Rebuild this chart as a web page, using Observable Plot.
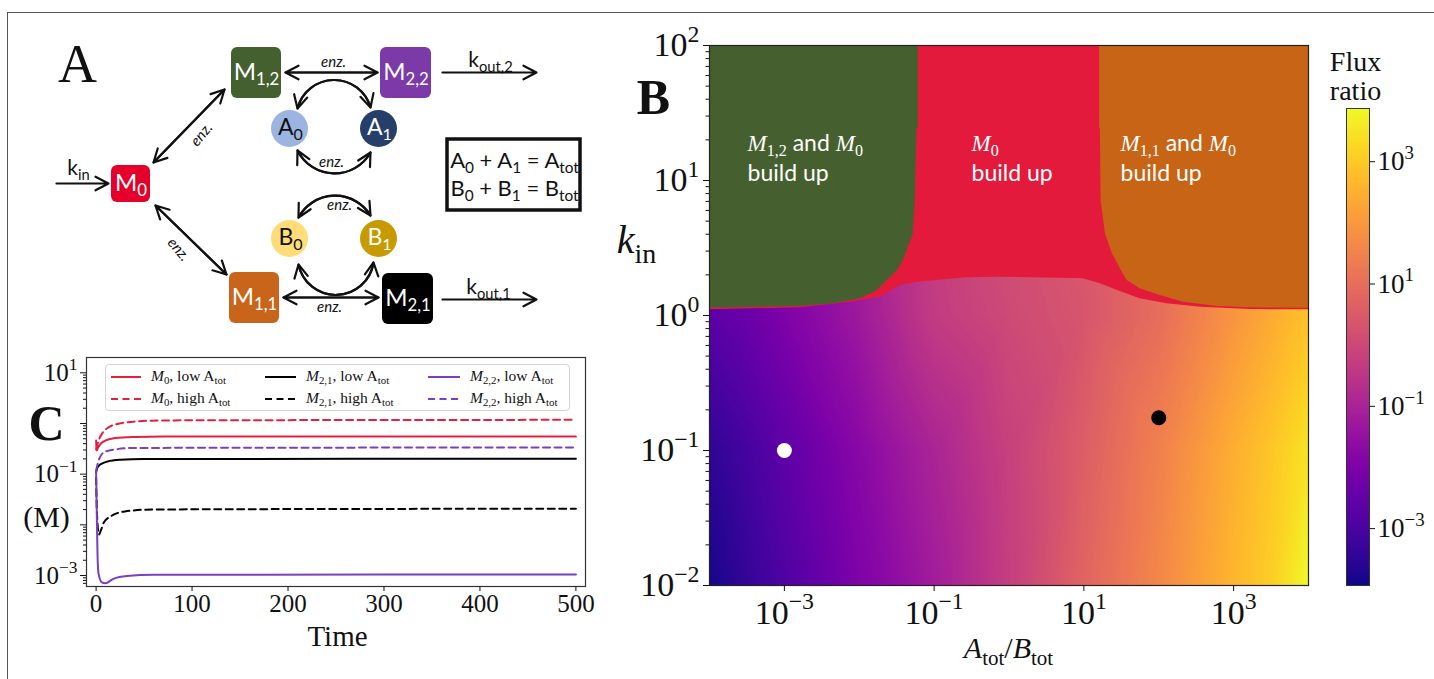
<!DOCTYPE html>
<html><head><meta charset="utf-8">
<script src="https://cdn.jsdelivr.net/npm/d3@7"></script>
<script src="https://cdn.jsdelivr.net/npm/@observablehq/plot@0.6"></script>
<style>
body{margin:0;background:#fff;}
#fig{position:relative;width:1434px;height:679px;overflow:hidden;background:#fff;}
.panel{position:absolute;}
.panel svg{overflow:visible;}
#frame{position:absolute;left:7px;top:12px;width:1500px;height:800px;border-left:1.5px solid #555;border-top:1.5px solid #555;}
#legendC{position:absolute;left:105px;top:364px;width:463px;height:45px;border:1px solid #d4d4d4;border-radius:4px;background:rgba(255,255,255,0.85);font-family:'Liberation Serif','DejaVu Serif',serif;font-size:15.5px;color:#111;}
#legendC .lt{position:absolute;white-space:nowrap;line-height:1;transform:translateY(-55%);}
#legendC sub{font-size:70%;vertical-align:-0.25em;line-height:0;}
#legendC svg{position:absolute;overflow:visible;}
</style></head>
<body>
<div id="fig">
  <div id="frame"></div>
  <div id="pA" class="panel" style="left:0;top:0"></div>
  <div id="pC" class="panel" style="left:0;top:340px"></div>
  <div id="legendC"></div>
  <div id="pB" class="panel" style="left:600px;top:0"></div>
  <div id="pBar" class="panel" style="left:1330px;top:0"></div>
</div>
<script>
const SERIF = "'Liberation Serif','DejaVu Serif',serif";
const SANS = "Lato,'Open Sans','DejaVu Sans',sans-serif";

// ================= DATA =================
// ---- Panel A: reaction scheme ----
const speciesNames  = ["M_{0}", "M_{1,2}", "M_{2,2}", "M_{1,1}", "M_{2,1}"];
const speciesColors = ["#e4002b", "#44602e", "#7b3aa8", "#c9651a", "#000000"];
const enzymeNames   = ["A_{0}", "A_{1}", "B_{0}", "B_{1}"];
const enzymeColors  = ["#9bb5e0", "#263f6a", "#ffdc78", "#c79a00"];
const enzymeText    = ["#111111", "#ffffff", "#111111", "#ffffff"];
const conservation  = ["A_{0} + A_{1} = A_{tot}", "B_{0} + B_{1} = B_{tot}"];
const rateNames     = ["k_{in}", "k_{out,2}", "k_{out,1}"];
const enzLabel      = "enz.";

// ---- Panel B: flux-ratio map (log10 values) ----
const fluxLogX = [-4, -3.5, -3, -2, -1, 0, 1, 2, 3, 3.5, 4];
const fluxLogK = [-2, -1, 0, 0.3, 2];
const fluxLogRatio = [
  [-3.85, -3.38, -2.92, -1.98, -1.20, -0.26, 0.75, 1.61, 2.62, 3.09, 3.87],
  [-3.46, -3.07, -2.60, -1.75, -0.97, -0.19, 0.59, 1.45, 2.47, 2.93, 3.48],
  [-2.68, -2.37, -1.98, -1.28, -0.34,  0.05, 0.36, 0.98, 1.92, 2.39, 2.86],
  [-2.60, -2.30, -1.90, -1.20, -0.30,  0.10, 0.40, 1.00, 1.95, 2.40, 2.86],
  [-2.60, -2.30, -1.90, -1.20, -0.30,  0.10, 0.40, 1.00, 1.95, 2.40, 2.86]
];
const fluxDomain = [-3.93, 3.87];
// upper edge of the steady region (log10 A/B, log10 k_in)
const steadyTopLogX = [-4, -2.785, -2.12, -1.72, -1.45, -1.22, -0.56, -0.115, 0.99, 1.22, 1.45, 1.75, 2.11, 2.56, 3.22, 4];
const steadyTopLogK = [0.042, 0.057, 0.099, 0.136, 0.222, 0.247, 0.279, 0.283, 0.272, 0.235, 0.185, 0.124, 0.087, 0.062, 0.044, 0.042];
// M1,2 build-up region: right edge
const m12LogK = [0.054, 0.067, 0.087, 0.124, 0.185, 0.283, 0.333, 0.41, 0.6, 0.85, 1.38, 1.385, 2];
const m12LogX = [-4, -2.785, -2.34, -1.98, -1.76, -1.58, -1.49, -1.41, -1.28, -1.25, -1.23, -1.21, -1.21];
// M1,1 build-up region: left edge
const m11LogK = [0.054, 0.057, 0.067, 0.099, 0.148, 0.198, 0.26, 0.333, 0.46, 0.6, 0.85, 1.385, 1.39, 2];
const m11LogX = [4, 3.22, 2.78, 2.33, 2.02, 1.75, 1.58, 1.5, 1.38, 1.29, 1.23, 1.22, 1.21, 1.21];
const regionNames = [["*M*_{1,2} and *M*_{0}", "build up"], ["*M*_{0}", "build up"], ["*M*_{1,1} and *M*_{0}", "build up"]];
const pointRatio = [1e-3, 100];
const pointKin   = [0.1, 0.175];
const pointColor = ["#ffffff", "#000000"];
const ticksBX = [1e-3, 1e-1, 1e1, 1e3];
const ticksBY = [1e-2, 1e-1, 1e0, 1e1, 1e2];
const ticksBar = [-3, -1, 1, 3];
const barTitle = ["Flux", "ratio"];

// ---- Panel C: time courses ----
const seriesNames = ["*M*_{0}, low A_{tot}", "*M*_{0}, high A_{tot}", "*M*_{2,1}, low A_{tot}", "*M*_{2,1}, high A_{tot}", "*M*_{2,2}, low A_{tot}", "*M*_{2,2}, high A_{tot}"];
const tM0low   = [0, 0.5, 2, 5, 10, 20, 40, 70, 500];
const vM0low   = [0.462, 0.293, 0.336, 0.403, 0.462, 0.518, 0.542, 0.553, 0.553];
const tM0high  = [0, 2, 5, 10, 20, 40, 70, 500];
const vM0high  = [0.307, 0.422, 0.58, 0.76, 0.955, 1.09, 1.15, 1.18];
const tM21low  = [0, 1, 3, 6, 12, 25, 50, 500];
const vM21low  = [0.108, 0.13, 0.148, 0.162, 0.178, 0.192, 0.1995, 0.201];
const tM21high = [0, 1, 3, 5, 8, 15, 30, 60, 500];
const vM21high = [0.0861, 0.0153, 0.00647, 0.00776, 0.0111, 0.0146, 0.0184, 0.0201, 0.0208];
const tM22low  = [0, 0.5, 1, 1.5, 2.5, 6, 9.5, 18, 32, 60, 500];
const vM22low  = [0.117, 0.0303, 0.00776, 0.0025, 0.0011, 0.00073, 0.00070, 0.00086, 0.00098, 0.00103, 0.00105];
const tM22high = [0, 2, 5, 10, 20, 40, 500];
const vM22high = [0.117, 0.170, 0.234, 0.280, 0.307, 0.329, 0.336];
const ticksCX = [0, 100, 200, 300, 400, 500];
const ticksCY = [1e-3, 1e-2, 1e-1, 1e0, 1e1];

// ================= HELPERS =================
const MINUS = "\u2212";
const pow10 = e => `10^{${String(e).replace("-", MINUS)}}`;
const fmtPow = d => pow10(Math.round(Math.log10(d)));

function parseRich(s){
  const segs=[]; let it=false, i=0, buf="";
  const flush=()=>{ if(buf){ segs.push({t:buf,it,shift:0,math:it}); buf=""; } };
  while(i<s.length){
    const c=s[i];
    if(c==="*"){ flush(); it=!it; i++; continue; }
    if((c==="_"||c==="^") && s[i+1]==="{"){
      flush();
      const j=s.indexOf("}",i+2);
      const prev=segs[segs.length-1];
      segs.push({t:s.slice(i+2,j), it:false, shift:c==="_"?-1:1, math:prev?prev.math:false});
      i=j+1; continue;
    }
    buf+=c; i++;
  }
  flush();
  return segs;
}
function richify(root){
  root.querySelectorAll("text").forEach(el=>{
    const s=el.textContent;
    if(!/[_^]\{|\*/.test(s)) return;
    const fs=parseFloat(getComputedStyle(el).fontSize)||12;
    const segs=parseRich(s);
    while(el.firstChild) el.removeChild(el.firstChild);
    let cur=0;
    segs.forEach(sg=>{
      const ts=document.createElementNS("http://www.w3.org/2000/svg","tspan");
      ts.textContent=sg.t;
      const target = sg.shift<0 ? fs*0.24 : sg.shift>0 ? -fs*0.42 : 0;
      if(Math.abs(target-cur)>1e-6){ ts.setAttribute("dy", (target-cur).toFixed(2)); cur=target; }
      if(sg.shift) ts.setAttribute("font-size", (fs*0.7).toFixed(2));
      if(sg.it) ts.setAttribute("font-style","italic");
      if(sg.math) ts.setAttribute("font-family", SERIF);
      el.appendChild(ts);
    });
  });
}
function richHTML(s){
  return parseRich(s).map(sg=>{
    let h=sg.t.replace(/&/g,"&amp;").replace(/</g,"&lt;");
    if(sg.it) h=`<i>${h}</i>`;
    if(sg.shift<0) h=`<sub>${h}</sub>`;
    if(sg.shift>0) h=`<sup>${h}</sup>`;
    return h;
  }).join("");
}

// ================= PANEL A =================
// layout of the scheme (pixel units of panel A)
const speciesLayout = [[130.5,183.5,39,37],[256,72.5,50,51],[405.5,72.5,51,51],[254,297.5,50,51],[407.5,298.5,51,51]];
const enzymeLayout  = [[289,128],[378,128],[289,238],[378,238]];
const arrowLayout = [ // x1,y1,x2,y2,bend,double
  [56,183,108,183,0,false],
  [153,162,224,89,0,true],
  [155,205,226,274,0,true],
  [285,72,377,72,0,true],
  [283,297,378,297,0,true],
  [442,72,536,72,0,false],
  [442,299,536,299,0,false],
  [297,108,370,107,75,true],
  [297,150,370,152,-62,true],
  [298,217,370,215,60,true],
  [298,264,373,262,-80,true]
];
const enzLayout = [[201,134,-50],[178,249,50],[333,62,0],[331,162,0],[339,205,0],[329,307,0]];
const rateLayout = [[78,168],[490,60],[488,287]];

const species = speciesNames.map((n,i)=>({name:n, color:speciesColors[i], x:speciesLayout[i][0], y:speciesLayout[i][1], w:speciesLayout[i][2], h:speciesLayout[i][3]}));
const enzymes = enzymeNames.map((n,i)=>({name:n, color:enzymeColors[i], tc:enzymeText[i], x:enzymeLayout[i][0], y:enzymeLayout[i][1]}));
const arrowRows = [];
arrowLayout.forEach(([x1,y1,x2,y2,b,dbl])=>{
  arrowRows.push({x1,y1,x2,y2,bend:b});
  if(dbl) arrowRows.push({x1:x2,y1:y2,x2:x1,y2:y1,bend:-b});
});
const enzRows = enzLayout.map(([x,y,r])=>({x,y,r,t:enzLabel}));
const rateRows = rateNames.map((n,i)=>({t:n,x:rateLayout[i][0],y:rateLayout[i][1]}));

const plotA = Plot.plot({
  width:600, height:340, margin:0,
  x:{domain:[0,600], range:[0,600], axis:null},
  y:{domain:[0,340], range:[0,340], axis:null},
  style:{fontFamily:SANS, background:"transparent"},
  marks:[
    ...arrowRows.map(a=>Plot.arrow([a],{x1:"x1",y1:"y1",x2:"x2",y2:"y2",bend:a.bend,stroke:"#111",strokeWidth:2.2,headLength:10,headAngle:55})),
    Plot.rect(species,{x1:d=>d.x-d.w/2,x2:d=>d.x+d.w/2,y1:d=>d.y-d.h/2,y2:d=>d.y+d.h/2,fill:"color",rx:6}),
    Plot.text(species,{x:"x",y:d=>d.y-1,text:"name",fill:"white",fontSize:24,textAnchor:"middle"}),
    Plot.dot(enzymes,{x:"x",y:"y",r:18.5,fill:"color"}),
    Plot.text(enzymes,{x:d=>d.x+1,y:d=>d.y-1,text:"name",fill:"tc",fontSize:23,textAnchor:"middle"}),
    Plot.text(enzRows,{x:"x",y:"y",text:"t",rotate:"r",fontSize:15,fontStyle:"italic",fill:"#111"}),
    Plot.text(rateRows,{x:"x",y:"y",text:"t",fontSize:21,fill:"#111"}),
    Plot.rect([0],{x1:447,x2:580,y1:139,y2:210,fill:"none",stroke:"#111",strokeWidth:3.5}),
    Plot.text(conservation,{x:514,y:(d,i)=>160+i*28,text:d=>d,fontSize:22,fill:"#111"}),
    Plot.text(["A"],{x:77,y:64,text:d=>d,fontFamily:SERIF,fontSize:54,fill:"#111"})
  ]
});
document.getElementById("pA").append(plotA);

// ================= PANEL B =================
const gridB = [];
fluxLogK.forEach((lk,r)=>fluxLogX.forEach((lx,c)=>gridB.push({x:10**lx, k:10**lk, f:fluxLogRatio[r][c]})));
const steadyTop = steadyTopLogX.map((lx,i)=>({x:10**lx, k:10**steadyTopLogK[i]}));
const m12 = m12LogK.map((lk,i)=>({k:10**lk, x:10**m12LogX[i]}));
const m11 = m11LogK.map((lk,i)=>({k:10**lk, x:10**m11LogX[i]}));
const pts = pointRatio.map((x,i)=>({x, k:pointKin[i], c:pointColor[i]}));
const regionLabelLayout = [[38,98],[262,98],[411,98]];
const regionMarks = [];
regionNames.forEach((lines,i)=>lines.forEach((t,j)=>regionMarks.push(
  Plot.text([t],{frameAnchor:"top-left",text:d=>d,dx:regionLabelLayout[i][0],dy:regionLabelLayout[i][1]+j*30,textAnchor:"start",lineAnchor:"middle",fill:"white",fontFamily:SANS,fontSize:23})
)));
const colorB = {type:"linear", scheme:"plasma", domain:fluxDomain};

const plotB = Plot.plot({
  width:730, height:679,
  marginLeft:109, marginRight:22, marginTop:45, marginBottom:94,
  x:{type:"log", domain:[1e-4,1e4]},
  y:{type:"log", domain:[1e-2,1e2]},
  color:colorB,
  style:{fontFamily:SERIF, background:"transparent", color:"#111"},
  marks:[
    Plot.raster(gridB,{x:"x",y:"k",fill:"f",interpolate:"barycentric",x1:1e-4,x2:1e4,y1:1e-2,y2:1e2}),
    Plot.areaY(steadyTop,{x:"x",y1:"k",y2:100,fill:"#e31a3c"}),
    Plot.areaX(m12,{y:"k",x1:1e-4,x2:"x",fill:"#45602e"}),
    Plot.areaX(m11,{y:"k",x1:"x",x2:1e4,fill:"#c86415"}),
    Plot.dot(pts,{x:"x",y:"k",r:7.5,fill:"c"}),
    Plot.frame({stroke:"#222",strokeWidth:1.2}),
    Plot.axisY({ticks:ticksBY,tickFormat:fmtPow,tickSize:6,tickPadding:4,fontSize:34,label:null}),
    Plot.axisY({ticks:d3.range(-2,2).flatMap(e=>d3.range(2,10).map(m=>m*10**e)),tickFormat:()=>"",tickSize:3.5,label:null}),
    Plot.axisX({ticks:ticksBX,tickFormat:fmtPow,tickSize:6,tickPadding:8,fontSize:34,label:null}),
    ...regionMarks,
    Plot.text(["*k*_{in}"],{frameAnchor:"top-left",text:d=>d,dx:-73,dy:195,textAnchor:"middle",lineAnchor:"middle",fontSize:40}),
    Plot.text(["*A*_{tot}/*B*_{tot}"],{frameAnchor:"top-left",text:d=>d,dx:299,dy:603,textAnchor:"middle",lineAnchor:"middle",fontSize:30}),
    Plot.text(["B"],{frameAnchor:"top-left",text:d=>d,dx:-56,dy:52,textAnchor:"middle",lineAnchor:"middle",fontSize:50,fontWeight:"bold"})
  ]
});
document.getElementById("pB").append(plotB);

// ================= COLORBAR =================
const plotBar = Plot.plot({
  width:104, height:679,
  marginLeft:16, marginRight:65, marginTop:108, marginBottom:94,
  x:{domain:[0,1], axis:null},
  y:{domain:fluxDomain},
  color:colorB,
  style:{fontFamily:SERIF, background:"transparent", color:"#111"},
  marks:[
    Plot.raster({fill:(x,y)=>y, x1:0, x2:1, y1:fluxDomain[0], y2:fluxDomain[1]}),
    Plot.frame({stroke:"#333",strokeWidth:1}),
    Plot.axisY({anchor:"right",ticks:ticksBar,tickFormat:pow10,tickSize:5,tickPadding:3,fontSize:27,label:null}),
    Plot.text([barTitle[0]],{frameAnchor:"top-left",text:d=>d,dx:9,dy:-46,textAnchor:"middle",lineAnchor:"middle",fontSize:28}),
    Plot.text([barTitle[1]],{frameAnchor:"top-left",text:d=>d,dx:9,dy:-17,textAnchor:"middle",lineAnchor:"middle",fontSize:28})
  ]
});
document.getElementById("pBar").append(plotBar);

// ================= PANEL C =================
const seriesT = [tM0low,tM0high,tM21low,tM21high,tM22low,tM22high];
const seriesV = [vM0low,vM0high,vM21low,vM21high,vM22low,vM22high];
const seriesColor = ["#e4203f","#e4203f","#000000","#000000","#7b3fc0","#7b3fc0"];
const seriesDash  = [null,"7,4.5",null,"7,4.5",null,"7,4.5"];
const plotC = Plot.plot({
  width:600, height:339,
  marginLeft:86, marginRight:15, marginTop:17, marginBottom:93,
  x:{domain:[-10,510]},
  y:{type:"log", domain:[10**-3.217, 10**1.302]},
  style:{fontFamily:SERIF, background:"transparent", color:"#111"},
  marks:[
    ...seriesT.map((ts,i)=>Plot.line(ts.map((t,j)=>({t, v:seriesV[i][j]})),{x:"t",y:"v",stroke:seriesColor[i],strokeWidth:2,strokeDasharray:seriesDash[i],curve:"monotone-x"})),
    Plot.frame({stroke:"#333",strokeWidth:1.2}),
    Plot.axisX({ticks:ticksCX,tickSize:5,tickPadding:3,fontSize:25,label:null}),
    Plot.axisY({ticks:ticksCY,tickFormat:d=>Math.round(Math.log10(d))%2!==0?fmtPow(d):"",tickSize:6,tickPadding:3,fontSize:25,label:null}),
    Plot.axisY({ticks:d3.range(-4,2).flatMap(e=>d3.range(2,10).map(m=>m*10**e)).filter(v=>v<19&&v>6.1e-4),tickFormat:()=>"",tickSize:3,label:null}),
    Plot.text(["Time"],{frameAnchor:"top-left",text:d=>d,dx:251,dy:279,textAnchor:"middle",lineAnchor:"middle",fontSize:29}),
    Plot.text(["(M)"],{frameAnchor:"top-left",text:d=>d,dx:-40,dy:160,textAnchor:"middle",lineAnchor:"middle",fontSize:30}),
    Plot.text(["C"],{frameAnchor:"top-left",text:d=>d,dx:-40,dy:66,textAnchor:"middle",lineAnchor:"middle",fontSize:50,fontWeight:"bold"})
  ]
});
document.getElementById("pC").append(plotC);

// ---- legend of panel C ----
const legend = document.getElementById("legendC");
const colX = [[5,35,45],[159,190,200],[322,354,364]];
const rowY = [12,34];
seriesNames.forEach((name,i)=>{
  const col=Math.floor(i/2), row=i%2;
  const sw=document.createElementNS("http://www.w3.org/2000/svg","svg");
  sw.setAttribute("width",colX[col][1]-colX[col][0]); sw.setAttribute("height",4);
  sw.style.left=colX[col][0]+"px"; sw.style.top=(rowY[row]-2)+"px";
  const ln=document.createElementNS("http://www.w3.org/2000/svg","line");
  ln.setAttribute("x1",0); ln.setAttribute("x2",colX[col][1]-colX[col][0]); ln.setAttribute("y1",2); ln.setAttribute("y2",2);
  ln.setAttribute("stroke",seriesColor[i]); ln.setAttribute("stroke-width",2);
  if(seriesDash[i]) ln.setAttribute("stroke-dasharray",seriesDash[i]);
  sw.append(ln); legend.append(sw);
  const tx=document.createElement("div"); tx.className="lt";
  tx.style.left=colX[col][2]+"px"; tx.style.top=rowY[row]+"px";
  tx.innerHTML=richHTML(name); legend.append(tx);
});

[plotA,plotB,plotBar,plotC].forEach(richify);
</script>
</body></html>
